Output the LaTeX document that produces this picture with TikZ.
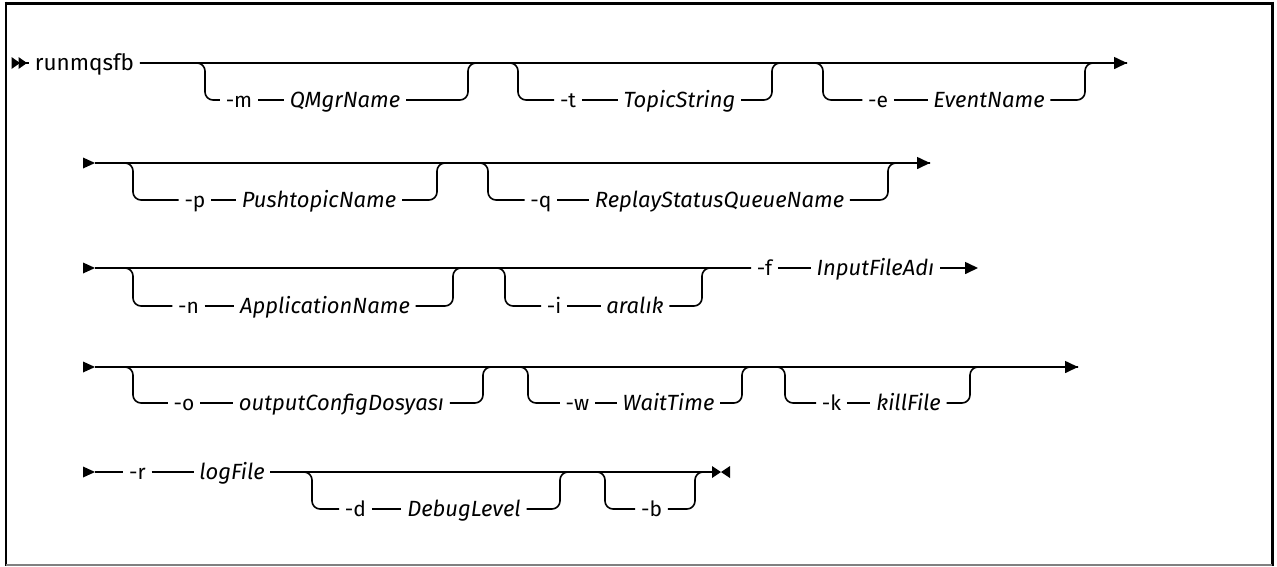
\documentclass[tikz,border=0pt]{standalone}
\usepackage{fontspec}
\setmainfont{Fira Sans}
\usetikzlibrary{arrows.meta}
\begin{document}
\begin{tikzpicture}[x=1pt,y=-1pt,line width=1.6pt,
  rr/.style={rounded corners=8pt},
  tok/.style={font=\fontsize{21}{25}\selectfont, inner xsep=5pt, inner ysep=0pt, text height=14pt, text depth=0pt},
  var/.style={tok, font=\fontsize{22}{26}\selectfont\itshape},
  tip/.style={-{Triangle[length=13pt,width=12pt]}}]
\useasboundingbox (0,0) rectangle (1277,566);
% frame
\draw[line width=3pt] (4.5,3) -- (1274,3);
\draw[line width=2.5pt] (6,1.5) -- (6,566);
\draw[line width=2.5pt] (1272.5,1.5) -- (1272.5,566);
\draw[line width=1.5pt, gray] (6,565) -- (1272,565);

% ---------- Row 1 ----------
\fill (11.5,57) -- (20,63) -- (11.5,69) -- cycle;
\fill (18.5,57) -- (27,63) -- (18.5,69) -- cycle;
\coordinate (s1) at (26,63);
\node[tok, font=\fontsize{22.5}{26}\selectfont] (cmd) at (84.5,63) {runmqsfb};
\coordinate (e1) at (1127,63);
\coordinate (m-a) at (205,63); \coordinate (m-b) at (468,63);
\coordinate (t-a) at (518,63); \coordinate (t-b) at (772,63);
\coordinate (e-a) at (823,63); \coordinate (e-b) at (1085,63);
\node[tok] (mo) at (239,100) {-m};
\node[var] (mv) at (345,100) {QMgrName};
\node[tok] (to) at (568,100) {-t};
\node[var] (tv) at (679.5,100) {TopicString};
\node[tok] (eo) at (878,100) {-e};
\node[var] (ev) at (989,100) {EventName};
\draw (s1) -- (cmd);
\draw[tip] (cmd) -- (e1);
\draw[rr] (cmd) -- (m-a) |- (mo);
\draw (mo) -- (mv);
\draw[rr] (mv) -| (m-b) -- (t-a) |- (to);
\draw (to) -- (tv);
\draw[rr] (tv) -| (t-b) -- (e-a) |- (eo);
\draw (eo) -- (ev);
\draw[rr] (ev) -| (e-b) -- (e1);

% ---------- Row 2 ----------
\fill (83,157.5) -- (95,163) -- (83,168.5) -- cycle;
\coordinate (s2) at (95,163);
\coordinate (e2) at (930,163);
\coordinate (p-a) at (133,163); \coordinate (p-b) at (437,163);
\coordinate (q-a) at (488,163); \coordinate (q-b) at (888,163);
\node[tok] (po) at (195,200) {-p};
\node[var] (pv) at (319,200) {PushtopicName};
\node[tok] (qo) at (541,200) {-q};
\node[var] (qv) at (719.5,200) {ReplayStatusQueueName};
\draw[tip] (s2) -- (e2);
\draw[rr] (s2) -- (p-a) |- (po);
\draw (po) -- (pv);
\draw[rr] (pv) -| (p-b) -- (q-a) |- (qo);
\draw (qo) -- (qv);
\draw[rr] (qv) -| (q-b) -- (e2);

% ---------- Row 3 ----------
\fill (83,262.5) -- (95,268) -- (83,273.5) -- cycle;
\coordinate (s3) at (95,268);
\coordinate (e3) at (978,268);
\coordinate (n-a) at (133,268); \coordinate (n-b) at (453,268);
\coordinate (i-a) at (505,268); \coordinate (i-b) at (702,268);
\node[tok] (no) at (188.5,306) {-n};
\node[var] (nv) at (325,306) {ApplicationName};
\node[tok] (io) at (554,306) {-i};
\node[var] (iv) at (635,306) {aralık};
\node[tok] (fo) at (764.5,268) {-f};
\node[var] (fv) at (875.5,268) {InputFileAdı};
\draw (s3) -- (fo);
\draw (fo) -- (fv);
\draw[tip] (fv) -- (e3);
\draw[rr] (s3) -- (n-a) |- (no);
\draw (no) -- (nv);
\draw[rr] (nv) -| (n-b) -- (i-a) |- (io);
\draw (io) -- (iv);
\draw[rr] (iv) -| (i-b) -- (fo);

% ---------- Row 4 ----------
\fill (83,361.5) -- (95,367) -- (83,372.5) -- cycle;
\coordinate (s4) at (95,367);
\coordinate (e4) at (1078,367);
\coordinate (o-a) at (133,367); \coordinate (o-b) at (483,367);
\coordinate (w-a) at (528,367); \coordinate (w-b) at (742,367);
\coordinate (k-a) at (785,367); \coordinate (k-b) at (970,367);
\node[tok] (oo) at (184,403) {-o};
\node[var] (ov) at (341.5,403) {outputConfigDosyası};
\node[tok] (wo) at (577.5,403) {-w};
\node[var] (wv) at (668.5,403) {WaitTime};
\node[tok] (ko) at (831.5,403) {-k};
\node[var] (kv) at (908.5,403) {killFile};
\draw[tip] (s4) -- (e4);
\draw[rr] (s4) -- (o-a) |- (oo);
\draw (oo) -- (ov);
\draw[rr] (ov) -| (o-b) -- (w-a) |- (wo);
\draw (wo) -- (wv);
\draw[rr] (wv) -| (w-b) -- (k-a) |- (ko);
\draw (ko) -- (kv);
\draw[rr] (kv) -| (k-b) -- (e4);

% ---------- Row 5 ----------
\fill (83,466.5) -- (95,472) -- (83,477.5) -- cycle;
\coordinate (s5) at (95,472);
\coordinate (e5) at (712,472);
\coordinate (d-a) at (312,472); \coordinate (d-b) at (560,472);
\coordinate (b-a) at (605,472); \coordinate (b-b) at (695,472);
\node[tok] (ro) at (137.5,472) {-r};
\node[var] (rv) at (232,472) {logFile};
\node[tok] (do) at (355.5,509) {-d};
\node[var] (dv) at (464,509) {DebugLevel};
\node[tok] (bo) at (651.5,509) {-b};
\draw (s5) -- (ro);
\draw (ro) -- (rv);
\draw (rv) -- (e5);
\draw[rr] (rv) -- (d-a) |- (do);
\draw (do) -- (dv);
\draw[rr] (dv) -| (d-b) -- (b-a) |- (bo);
\draw[rr] (bo) -| (b-b) -- (e5);
\fill (712,466) -- (721,472) -- (712,478) -- cycle;
\fill (730,466) -- (721,472) -- (730,478) -- cycle;
\end{tikzpicture}
\end{document}
